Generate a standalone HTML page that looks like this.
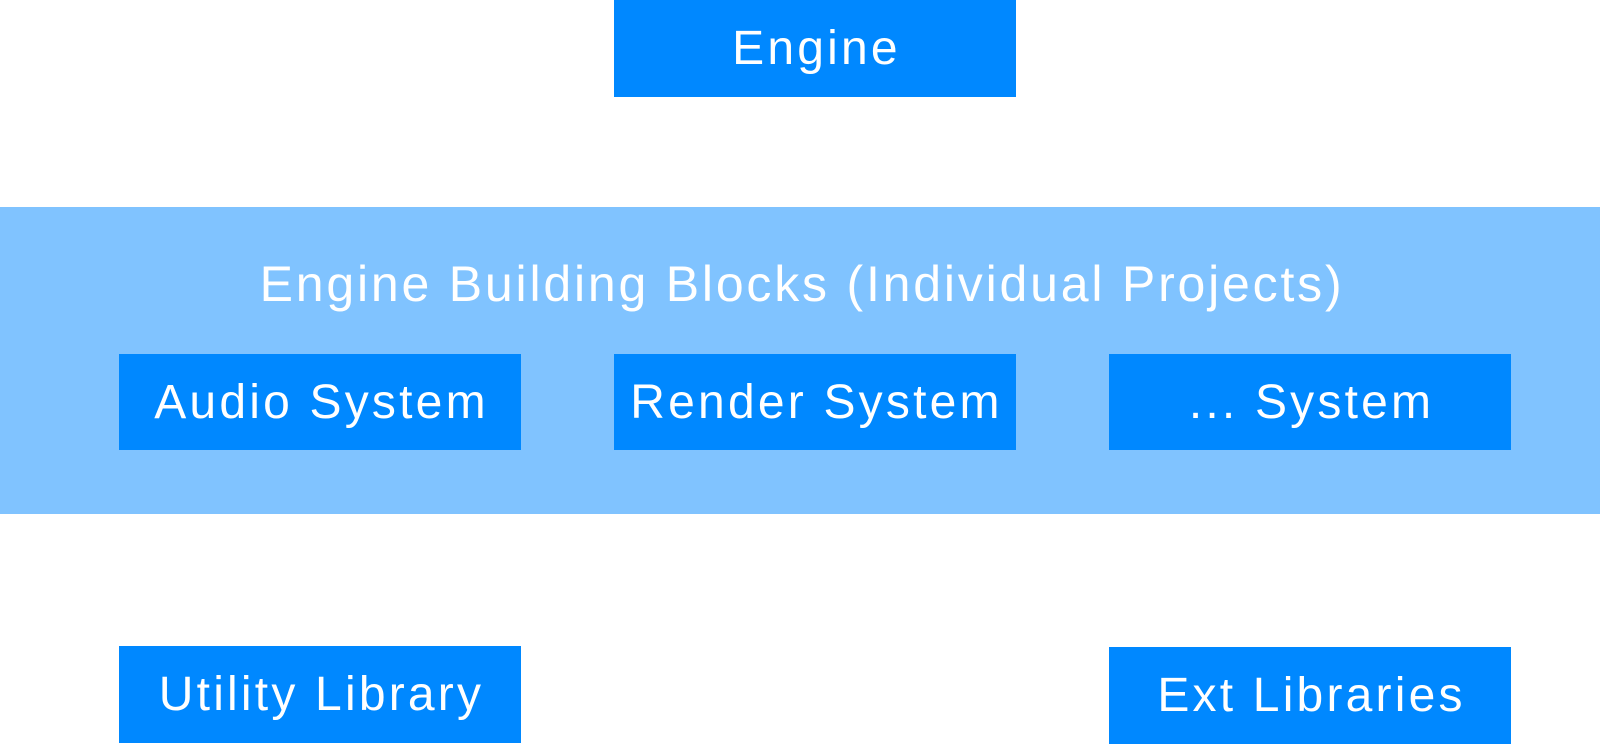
<!DOCTYPE html>
<html><head><style>
body{margin:0;width:1600px;height:745px;background:#fff;position:relative;overflow:hidden;font-family:"Liberation Sans",sans-serif;}
.b{position:absolute;background:#0088FF;color:#fff;font-size:48px;display:flex;align-items:center;justify-content:center;letter-spacing:3.2px;padding-left:3px;box-sizing:border-box;}
.band{position:absolute;left:0;top:207px;width:1600px;height:307px;background:#80C3FF;}
.t{position:absolute;left:0;width:1604px;text-align:center;color:#fff;font-size:50px;top:254px;letter-spacing:2.8px;line-height:60px;}
</style></head><body>
<div class="b" style="left:614px;top:0;width:402px;height:97px;">Engine</div>
<div class="band"></div>
<div class="t">Engine Building Blocks (Individual Projects)</div>
<div class="b" style="left:119px;top:354px;width:402px;height:96px;">Audio System</div>
<div class="b" style="left:614px;top:354px;width:402px;height:96px;">Render System</div>
<div class="b" style="left:1109px;top:354px;width:402px;height:96px;">... System</div>
<div class="b" style="left:119px;top:646px;width:402px;height:97px;">Utility Library</div>
<div class="b" style="left:1109px;top:647px;width:402px;height:97px;">Ext Libraries</div>
</body></html>
